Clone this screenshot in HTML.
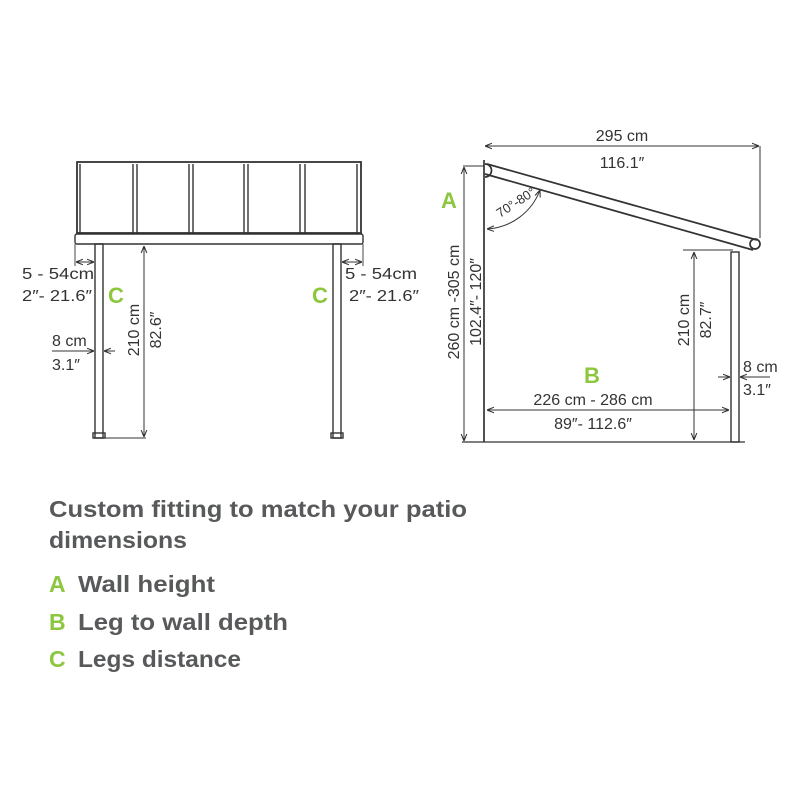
<!DOCTYPE html>
<html><head><style>
body{margin:0;background:#fff;width:800px;height:800px;overflow:hidden}
svg{position:absolute;left:0;top:0}
text{font-family:"Liberation Sans",sans-serif;fill:#333}
</style></head><body>
<svg width="800" height="800" viewBox="0 0 800 800">
<defs>
<marker id="ar" viewBox="0 0 10 10" refX="10" refY="5" markerWidth="7" markerHeight="7" orient="auto-start-reverse"><path d="M0,1L10,5L0,9" fill="none" stroke="#333" stroke-width="1.5"/></marker>
</defs>
<g stroke="#333" fill="none" stroke-width="1.4">
<rect x="77" y="162" width="284" height="71" stroke-width="1.8"/>
<line x1="80" y1="164" x2="80" y2="233"/><line x1="357" y1="164" x2="357" y2="233"/>
<line x1="133" y1="164" x2="133" y2="233"/><line x1="137" y1="164" x2="137" y2="233"/>
<line x1="189" y1="164" x2="189" y2="233"/><line x1="193" y1="164" x2="193" y2="233"/>
<line x1="244" y1="164" x2="244" y2="233"/><line x1="248" y1="164" x2="248" y2="233"/>
<line x1="300" y1="164" x2="300" y2="233"/><line x1="305" y1="164" x2="305" y2="233"/>
<rect x="75" y="234" width="288" height="10" rx="2"/>
<rect x="95" y="244" width="8" height="194"/>
<rect x="333" y="244" width="8" height="194"/>
<rect x="93" y="433" width="12" height="5"/><rect x="331" y="433" width="12" height="5"/>
<line x1="75" y1="244" x2="75" y2="266" stroke-width="0.9"/>
<line x1="363" y1="244" x2="363" y2="266" stroke-width="0.9"/>
<line x1="76" y1="262" x2="94" y2="262" marker-start="url(#ar)" marker-end="url(#ar)" stroke-width="1"/>
<line x1="342" y1="262" x2="362" y2="262" marker-start="url(#ar)" marker-end="url(#ar)" stroke-width="1"/>
<line x1="52" y1="351" x2="94" y2="351" marker-end="url(#ar)" stroke-width="1"/>
<line x1="115" y1="351" x2="104" y2="351" marker-end="url(#ar)" stroke-width="1"/>
<line x1="144" y1="246" x2="144" y2="437" marker-start="url(#ar)" marker-end="url(#ar)" stroke-width="1"/>
<line x1="103" y1="438" x2="146" y2="438" stroke-width="1"/>
<line x1="484" y1="160" x2="484" y2="442" stroke-width="1.7"/>
<path d="M487,164 L757,240 M485,174 L753,250" stroke-width="1.7"/>
<path d="M485,164 A6,6 0 0 1 485,177" stroke-width="1.7"/>
<circle cx="755" cy="244" r="5" stroke-width="1.7"/>
<rect x="731" y="252" width="8" height="190"/>
<line x1="760" y1="146" x2="760" y2="238" stroke-width="1"/>
<line x1="485" y1="146" x2="759" y2="146" marker-start="url(#ar)" marker-end="url(#ar)" stroke-width="1"/>
<line x1="464" y1="167" x2="464" y2="441" marker-start="url(#ar)" marker-end="url(#ar)" stroke-width="1"/>
<line x1="463" y1="166" x2="484" y2="166" stroke-width="1"/>
<line x1="462" y1="442" x2="745" y2="442" stroke-width="1.3"/>
<path d="M487,229 A60,60 0 0 0 540,190" stroke-width="1" marker-start="url(#ar)" marker-end="url(#ar)"/>
<line x1="683" y1="250" x2="733" y2="250" stroke-width="1"/>
<line x1="694" y1="252" x2="694" y2="440" marker-start="url(#ar)" marker-end="url(#ar)" stroke-width="1"/>
<line x1="487" y1="410" x2="729" y2="410" marker-start="url(#ar)" marker-end="url(#ar)" stroke-width="1"/>
<line x1="718" y1="377" x2="730" y2="377" marker-end="url(#ar)" stroke-width="1"/>
<line x1="770" y1="377" x2="740" y2="377" marker-end="url(#ar)" stroke-width="1"/>
</g>
<g font-size="16">
<text x="22" y="279" textLength="72" lengthAdjust="spacingAndGlyphs">5 - 54cm</text>
<text x="22" y="301" textLength="70" lengthAdjust="spacingAndGlyphs">2″- 21.6″</text>
<text x="345" y="279" textLength="72" lengthAdjust="spacingAndGlyphs">5 - 54cm</text>
<text x="349" y="301" textLength="70" lengthAdjust="spacingAndGlyphs">2″- 21.6″</text>
<text x="52" y="346">8 cm</text>
<text x="52" y="370">3.1″</text>
<text transform="translate(139,330) rotate(-90)" text-anchor="middle">210 cm</text>
<text transform="translate(161,330) rotate(-90)" text-anchor="middle">82.6″</text>
<text x="622" y="141" text-anchor="middle">295 cm</text>
<text x="622" y="168" text-anchor="middle">116.1″</text>
<text transform="translate(459,302) rotate(-90)" text-anchor="middle">260 cm -305 cm</text>
<text transform="translate(481,302) rotate(-90)" text-anchor="middle">102.4″- 120″</text>
<text transform="translate(689,320) rotate(-90)" text-anchor="middle">210 cm</text>
<text transform="translate(711,320) rotate(-90)" text-anchor="middle">82.7″</text>
<text x="593" y="405" text-anchor="middle">226 cm - 286 cm</text>
<text x="593" y="429" text-anchor="middle">89″- 112.6″</text>
<text x="743" y="372">8 cm</text>
<text x="743" y="395">3.1″</text>
<text transform="translate(500,218) rotate(-33)" font-size="13">70°-80°</text>
</g>
<g font-size="22" font-weight="bold">
<text x="108" y="303" style="fill:#8dc63f">C</text>
<text x="312" y="303" style="fill:#8dc63f">C</text>
<text x="441" y="208" style="fill:#8dc63f">A</text>
<text x="584" y="383" style="fill:#8dc63f">B</text>
</g>
<g font-size="23" font-weight="bold">
<text x="49" y="517" style="fill:#58595b" textLength="418" lengthAdjust="spacingAndGlyphs">Custom fitting to match your patio</text>
<text x="49" y="548" style="fill:#58595b" textLength="138" lengthAdjust="spacingAndGlyphs">dimensions</text>
<text x="49" y="592" style="fill:#8dc63f">A</text><text x="78" y="592" style="fill:#58595b" textLength="137" lengthAdjust="spacingAndGlyphs">Wall height</text>
<text x="49" y="630" style="fill:#8dc63f">B</text><text x="78" y="630" style="fill:#58595b" textLength="210" lengthAdjust="spacingAndGlyphs">Leg to wall depth</text>
<text x="49" y="667" style="fill:#8dc63f">C</text><text x="78" y="667" style="fill:#58595b" textLength="163" lengthAdjust="spacingAndGlyphs">Legs distance</text>
</g>
</svg>
</body></html>
